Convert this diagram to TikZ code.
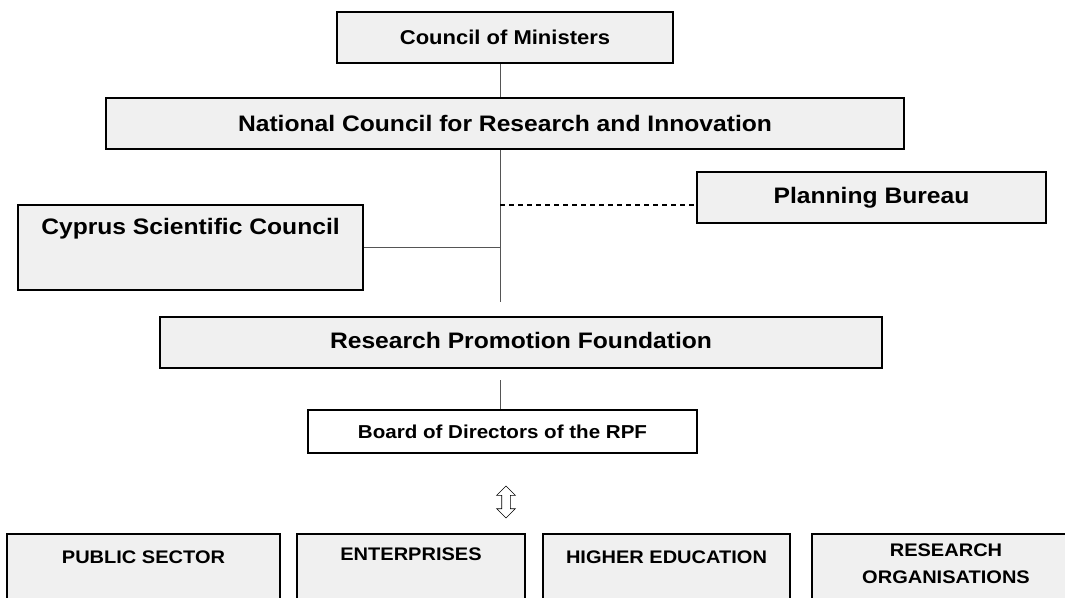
\documentclass[tikz,border=0pt]{standalone}
\usepackage{fontspec}
\setmainfont[FakeStretch=1.1]{Liberation Sans}
\usetikzlibrary{shapes.arrows}
\definecolor{boxgray}{RGB}{240,240,240}
\definecolor{linegray}{RGB}{85,85,85}

\begin{document}
\begin{tikzpicture}[x=1pt,y=-1pt,
    box/.style={rectangle, draw, line width=1.6pt, fill=boxgray, inner sep=0pt},
    big/.style={font=\bfseries\fontsize{22.4}{26}\selectfont},
    small/.style={font=\bfseries\fontsize{18.2}{27}\selectfont, align=center},
    link/.style={draw=linegray, line width=1pt}]

    \useasboundingbox (0,0) rectangle (1065,597);
    \clip (0,0) rectangle (1065,597);

    \node[box,
          minimum width = 336pt,
          minimum height = 51pt
          ] (com) at (505,37.5) {};
    \node[font=\bfseries\fontsize{20}{24}\selectfont] at (com.center) {Council of Ministers};

    \node[box,
          minimum width = 798pt,
          minimum height = 51pt
          ] (ncri) at (505,123.5) {};
    \node[big] at (ncri.center) {National Council for Research and Innovation};

    \node[box,
          minimum width = 349pt,
          minimum height = 51pt
          ] (pb) at (871.5,197.5) {};
    \node[big] at (pb.center) {Planning Bureau};

    \node[box,
          minimum width = 345pt,
          minimum height = 85pt
          ] (csc) at (190.5,247.5) {};
    \node[big] at ([yshift=-25pt]csc.north) {Cyprus Scientific Council};

    \node[box,
          minimum width = 722pt,
          minimum height = 51pt
          ] (rpf) at (521,342.5) {};
    \node[big] at ([yshift=2pt]rpf.center) {Research Promotion Foundation};

    \node[box,
          fill = white,
          minimum width = 389pt,
          minimum height = 43pt
          ] (bod) at (502.5,431.5) {};
    \node[font=\bfseries\fontsize{18.7}{24}\selectfont] at (bod.center) {Board of Directors of the RPF};

    \node[double arrow,
          draw,
          line width = 0.6pt,
          fill = white,
          rotate = 90,
          minimum height = 32pt,
          inner sep = 4pt,
          double arrow head extend = 5pt
          ] (updown) at (506,502) {};

    % sectors
    \node[box, minimum width = 273.5pt, minimum height = 90pt, anchor = north] (ps) at (143.5,533) {};
    \node[small] at ([yshift=-24pt]ps.north) {PUBLIC SECTOR};

    \node[box, minimum width = 228pt, minimum height = 90pt, anchor = north] (ent) at (411,533) {};
    \node[small] at ([yshift=-21pt]ent.north) {ENTERPRISES};

    \node[box, minimum width = 247pt, minimum height = 90pt, anchor = north] (he) at (666.5,533) {};
    \node[small] at ([yshift=-24pt]he.north) {HIGHER EDUCATION};

    \node[box, minimum width = 268pt, minimum height = 90pt, anchor = north] (ro) at (946,533) {};
    \node[small] at ([yshift=-30.5pt]ro.north) {RESEARCH\\ORGANISATIONS};

    \coordinate (tEnd) at (500,302);
    \coordinate (tGap) at (500,380);
    \coordinate (dsh) at (500,205);

    \path[link]
    (com.south -| tEnd) edge [] (ncri.north -| tEnd)
    (ncri.south -| tEnd) edge [] (tEnd)
    (csc.east) edge [] (csc.east -| tEnd)
    (tGap) edge [] (bod.north -| tGap);

    \draw[dashed, line width=1.6pt, dash pattern=on 5pt off 4pt] (dsh) -- (dsh -| pb.west);

\end{tikzpicture}
\end{document}
